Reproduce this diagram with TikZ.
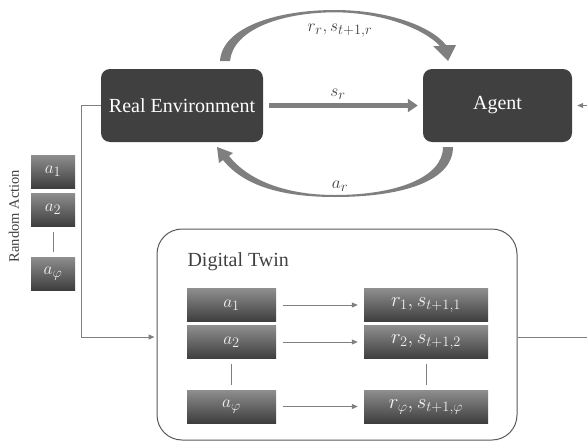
\documentclass[tikz,border=0pt]{standalone}
\usepackage{fontspec}
\setmainfont{Liberation Serif}
\usetikzlibrary{arrows.meta}
\definecolor{dk}{HTML}{404040}
\definecolor{arr}{HTML}{7F7F7F}
\definecolor{gtop}{HTML}{8E8E8E}
\definecolor{gbot}{HTML}{3E3E3E}
\definecolor{dtline}{HTML}{595959}
\tikzset{
 darkbox/.style={fill=dk, rounded corners=9pt, text=white, font=\fontsize{20}{24}\selectfont, inner sep=0pt, minimum height=73pt},
 gradbox/.style={top color=gtop, bottom color=gbot, text=white!95!black, font=\fontsize{19}{22}\selectfont, inner sep=0pt, minimum height=33pt},
 resbox/.style={gradbox, minimum width=124pt, font=\fontsize{21}{24}\selectfont},
 conn/.style={draw=arr, line width=1pt},
 thinarrow/.style={conn, -{Triangle[length=6pt,width=5pt]}},
 bigcurve/.style={fill=arr},
 lbl/.style={text=dk, font=\fontsize{19}{22}\selectfont},
 dtbox/.style={draw=dtline, line width=1pt, rounded corners=25pt}
}
\begin{document}
\begin{tikzpicture}[x=1pt,y=-1pt]
\useasboundingbox (0,0) rectangle (587,442);
% main boxes
\node[darkbox, minimum width=162pt] (env) at (182,105.5) {Real Environment};
\node[darkbox, minimum width=149pt] (agent) at (497.5,105.5) {Agent};
% straight thick arrow
\draw[arr, line width=5.5pt, -{Triangle[length=10pt,width=13pt]}] ([xshift=6pt]env.east) -- ([xshift=-5pt]agent.west);
\node[lbl] (sr) at (338,94) {$s_r$};
% top curved arrow
\fill[bigcurve] (220,61) .. controls (222,28) and (275,10) .. (335,10) .. controls (385,10) and (430,25) .. (446,45) -- (456,45) -- (448,61) -- (433,46) -- (440,46) .. controls (424,29) and (383,12.5) .. (335,12.3) .. controls (280,12.5) and (233,30) .. (230,61) -- cycle;
\node[lbl] (rr) at (340,31) {$r_r, s_{t+1,r}$};
% bottom curved arrow
\fill[bigcurve] (453,147) .. controls (453,182) and (400,197) .. (335,197) .. controls (282,197) and (244,186) .. (223,160) -- (219,163) -- (217,147) -- (233,153) -- (229,156) .. controls (248,180) and (285,195) .. (335,195) .. controls (395,195) and (443,178) .. (443,147) -- cycle;
\node[lbl] (ar) at (340,186) {$a_r$};
% agent incoming arrow from right edge
\coordinate (edge1) at (587,105.5);
\draw[thinarrow] (edge1) -- ([xshift=5pt]agent.east);
% random actions
\node[gradbox, minimum width=44pt] (ra1) at (53,171.5) {$a_1$};
\node[gradbox, minimum width=44pt] (ra2) at (53,209.5) {$a_2$};
\node[gradbox, minimum width=44pt] (raphi) at (53,273.5) {$a_\varphi$};
\draw[conn] ([yshift=-6pt]ra2.south) -- ([yshift=5pt]raphi.north);
\node[lbl, rotate=90, font=\fontsize{14.5}{16}\selectfont] (ratext) at (14,216) {Random Action};
% digital twin
\node[dtbox, minimum width=360pt, minimum height=211pt] (dt) at (337,334.5) {};
\node[lbl, font=\fontsize{20}{24}\selectfont, anchor=west] (dtl) at (184,262) {Digital Twin};
\draw[thinarrow, shorten >=2pt] (env.west) -- ++(-19,0) |- ([yshift=-2.5pt]dt.west);
\node[gradbox, minimum width=89pt] (l1) at (231.5,305) {$a_1$};
\node[gradbox, minimum width=89pt] (l2) at (231.5,342) {$a_2$};
\node[gradbox, minimum width=89pt] (l3) at (231.5,406.5) {$a_\varphi$};
\node[resbox] (r1) at (426,305) {$r_1, s_{t+1,1}$};
\node[resbox] (r2) at (426,342) {$r_2, s_{t+1,2}$};
\node[resbox] (r3) at (426,406.5) {$r_\varphi, s_{t+1,\varphi}$};
\draw[thinarrow, shorten <=7pt, shorten >=6pt] (l1) -- (r1);
\draw[thinarrow, shorten <=7pt, shorten >=6pt] (l2) -- (r2);
\draw[thinarrow, shorten <=7pt, shorten >=6pt] (l3) -- (r3);
\draw[conn] ([yshift=-5pt]l2.south) -- ([yshift=5pt]l3.north);
\draw[conn] ([yshift=-5pt]r2.south) -- ([yshift=5pt]r3.north);
\coordinate (edge2) at (587,337);
\draw[conn] ([yshift=-2.5pt]dt.east) -- (edge2);
\end{tikzpicture}
\end{document}
